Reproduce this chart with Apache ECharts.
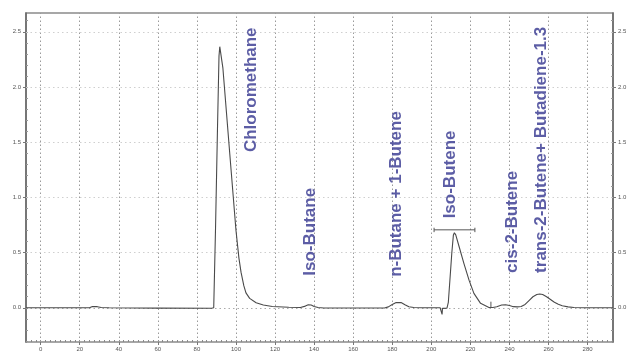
<!DOCTYPE html>
<html>
<head>
<meta charset="utf-8">
<script src="https://cdn.jsdelivr.net/npm/echarts@6/dist/echarts.min.js"></script>
<style>html,body{margin:0;padding:0;background:#fff;}#c{width:633px;height:356px;}</style>
</head>
<body>
<div id="c"></div>
<script>
// Retention time (x) and detector signal (y)
const time = [-7.5, 25, 26.5, 27.5, 29, 31, 35, 60, 87.5,
  88.6, 89.5, 90.5, 91.3, 91.7, 93.3, 96.7, 100, 101.5, 102.6, 104, 105.1, 107, 110.3, 114, 118.6, 127, 133,
  134, 135.5, 137, 138.5, 140, 142, 145,
  176, 178, 180, 182, 183, 184.5, 186.5, 188.5, 191, 195,
  204.5, 205.3, 205.5, 205.7, 208, 208.7, 209.5, 210.5, 211.3, 211.8, 212.5, 214.2, 216.7, 219.3, 221.8, 225.2, 229.5,
  231.5, 233.5, 236, 238, 240, 242, 244,
  246, 248, 250, 252, 254, 255.5, 257, 259, 261, 263, 265, 267, 270, 273, 278, 293];
const signal = [0, 0, 0.012, 0.018, 0.01, 0.002, 0, -0.003, -0.004,
  0, 0.7, 1.6, 2.28, 2.365, 2.17, 1.42, 0.70, 0.45, 0.32, 0.2, 0.135, 0.085, 0.045, 0.025, 0.012, 0.005, 0.003,
  0.003, 0.015, 0.027, 0.025, 0.012, 0.003, -0.002,
  -0.002, 0.008, 0.03, 0.048, 0.052, 0.047, 0.028, 0.01, 0.002, 0,
  0, -0.005, -0.06, -0.005, -0.003, 0.05, 0.25, 0.5, 0.66, 0.68, 0.66, 0.555, 0.40, 0.25, 0.13, 0.04, 0.003,
  0.003, 0.01, 0.025, 0.028, 0.02, 0.01, 0.008,
  0.012, 0.03, 0.065, 0.1, 0.12, 0.125, 0.12, 0.1, 0.075, 0.05, 0.032, 0.018, 0.008, 0.003, 0, 0];

// Integration markers (segments separated by nulls)
const markerT = [201.4, 201.4, null, 201.4, 222.3, null, 222.3, 222.3, null, 230.5, 230.5];
const markerV = [0.685, 0.725, null, 0.706, 0.706, null, 0.685, 0.725, null, 0.0, 0.055];

// Peak annotations
const peakNames = ['Chloromethane', 'Iso-Butane', 'n-Butane + 1-Butene', 'Iso-Butene', 'cis-2-Butene', 'trans-2-Butene+ Butadiene-1.3'];
const peakLabelT = [107.9, 138.0, 182.0, 209.5, 241.2, 256.5];
const peakLabelV = [1.41, 0.29, 0.28, 0.81, 0.316, 0.316];

// Axis ticks
const xTicks = [0, 20, 40, 60, 80, 100, 120, 140, 160, 180, 200, 220, 240, 260, 280];
const yTicks = [0.0, 0.5, 1.0, 1.5, 2.0, 2.5];

const X_MIN = -7.5, X_MAX = 293, Y_MIN = -0.31, Y_MAX = 2.67;

const xMinor = [];
for (let v = -5; v <= 292.5; v += 2.5) xMinor.push(v);
const yMinor = [];
for (let v = -0.3; v <= 2.65; v += 0.1) yMinor.push(Math.round(v * 10) / 10);

const chart = echarts.init(document.getElementById('c'), null, {renderer: 'canvas'});
const labelFont = {fontSize: 6, color: '#555', fontFamily: 'Liberation Sans, Arial, sans-serif'};

function xAx(extra) {
  return Object.assign({type: 'value', min: X_MIN, max: X_MAX, position: 'bottom',
    splitLine: {show: false}, axisLine: {show: false, onZero: false}}, extra);
}
function yAx(extra) {
  return Object.assign({type: 'value', min: Y_MIN, max: Y_MAX,
    splitLine: {show: false}, axisLine: {show: false, onZero: false}}, extra);
}

chart.setOption({
  animation: false,
  backgroundColor: '#fff',
  grid: {left: 26, right: 20, top: 13, bottom: 14, show: true, borderColor: '#8a8a8a', borderWidth: 1.5, containLabel: false},
  xAxis: [
    xAx({axisTick: {show: true, length: 3, customValues: xTicks, lineStyle: {color: '#777'}},
         axisLabel: Object.assign({show: true, margin: 4, customValues: xTicks, formatter: v => String(v)}, labelFont)}),
    xAx({axisTick: {show: true, inside: true, length: 2, customValues: xMinor, lineStyle: {color: '#888'}},
         axisLabel: {show: false}})
  ],
  yAxis: [
    yAx({position: 'left', axisLine: {show: true, onZero: false, lineStyle: {color: '#666', width: 1.5}},
         axisTick: {show: true, length: 3, customValues: yTicks, lineStyle: {color: '#777'}},
         axisLabel: Object.assign({show: true, margin: 5, customValues: yTicks, formatter: v => v.toFixed(1)}, labelFont)}),
    yAx({position: 'right', axisLine: {show: true, onZero: false, lineStyle: {color: '#666', width: 1.5}},
         axisTick: {show: true, length: 3, customValues: yTicks, lineStyle: {color: '#777'}},
         axisLabel: Object.assign({show: true, margin: 5, customValues: yTicks, formatter: v => v.toFixed(1)}, labelFont)}),
    yAx({position: 'left', axisTick: {show: true, inside: true, length: 2, customValues: yMinor, lineStyle: {color: '#999'}}, axisLabel: {show: false}}),
    yAx({position: 'right', axisTick: {show: true, inside: true, length: 2, customValues: yMinor, lineStyle: {color: '#999'}}, axisLabel: {show: false}})
  ],
  series: [
    {
      type: 'line', name: 'grid', data: [], silent: true,
      markLine: {
        symbol: 'none', silent: true, animation: false, label: {show: false},
        data: xTicks.map(v => ({xAxis: v, lineStyle: {type: [1.5, 2.5], color: '#9a9a9a', width: 1}}))
          .concat(yTicks.map(v => ({yAxis: v, lineStyle: {type: [1.5, 3], color: v === 0 ? '#aaa' : '#cfcfcf', width: 1}})))
      }
    },
    {
      type: 'line', name: 'signal', showSymbol: false, symbol: 'none',
      data: time.map((t, i) => [t, signal[i]]),
      lineStyle: {color: '#4a4a4a', width: 1.1},
      z: 5
    },
    {
      type: 'line', name: 'markers', showSymbol: false, symbol: 'none', connectNulls: false,
      data: markerT.map((t, i) => t === null ? [null, null] : [t, markerV[i]]),
      lineStyle: {color: '#555', width: 1},
      z: 5
    },
    {
      type: 'scatter', name: 'labels', symbolSize: 0, silent: true,
      data: peakNames.map((n, i) => ({name: n, value: [peakLabelT[i], peakLabelV[i]]})),
      label: {
        show: true, formatter: '{b}', position: 'inside', rotate: 90,
        align: 'left', verticalAlign: 'middle',
        fontSize: 17, fontWeight: 'bold', color: '#33348f',
        fontFamily: 'Liberation Sans, Arial, sans-serif'
      },
      z: 6
    }
  ]
});
</script>
</body>
</html>
